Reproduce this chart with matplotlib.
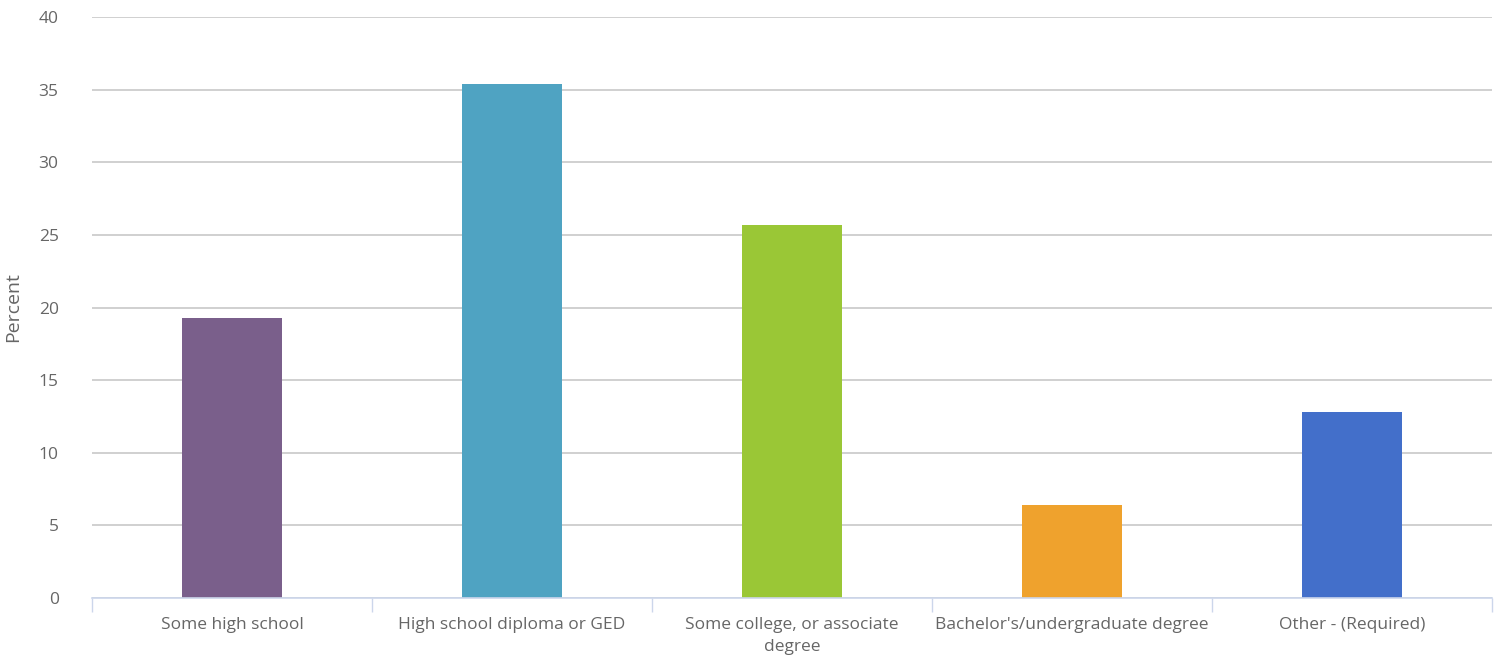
import matplotlib
matplotlib.use('Agg')
import matplotlib.pyplot as plt

categories = ['Some high school', 'High school diploma or GED', 'Some college, or associate\ndegree',
              "Bachelor's/undergraduate degree", 'Other - (Required)']
percents = [19.3, 35.4, 25.7, 6.4, 12.8]
colors = ['#7a5f8b', '#4fa3c2', '#9ac736', '#efa22d', '#436fca']
yticks = [0, 5, 10, 15, 20, 25, 30, 35, 40]

plt.rcParams['font.family'] = ['Open Sans', 'DejaVu Sans']

fig = plt.figure(figsize=(15.02, 6.57), dpi=100)
ax = fig.add_axes([92 / 1502, 59 / 657, 1400 / 1502, 581 / 657])

x = range(len(categories))
ax.bar(x, percents, width=0.36, color=colors, zorder=3)

ax.set_xlim(-0.5, len(categories) - 0.5)
ax.set_ylim(0, 40)
ax.set_yticks(yticks)
ax.set_xticks(list(x))
ax.set_xticklabels(categories, fontsize=12.5, color='#666666', linespacing=1.45)
ax.tick_params(axis='x', length=0, pad=14)
ax.tick_params(axis='y', length=0, pad=24, labelsize=12.5, labelcolor='#666666')

# boundary ticks between categories
ax.set_xticks([i - 0.5 for i in range(len(categories) + 1)], minor=True)
ax.tick_params(axis='x', which='minor', length=10, width=1, color='#ccd6eb', direction='out')

ax.yaxis.grid(True, color='#c8c8c8', linewidth=1.2, zorder=0)
for side in ['top', 'right', 'left']:
    ax.spines[side].set_visible(False)
ax.spines['bottom'].set_color('#ccd6eb')
ax.spines['bottom'].set_linewidth(1.2)
ax.spines['bottom'].set_zorder(4)

ax.set_ylabel('Percent', fontsize=14, color='#666666', labelpad=12)

fig.savefig('out.png', dpi=100)
